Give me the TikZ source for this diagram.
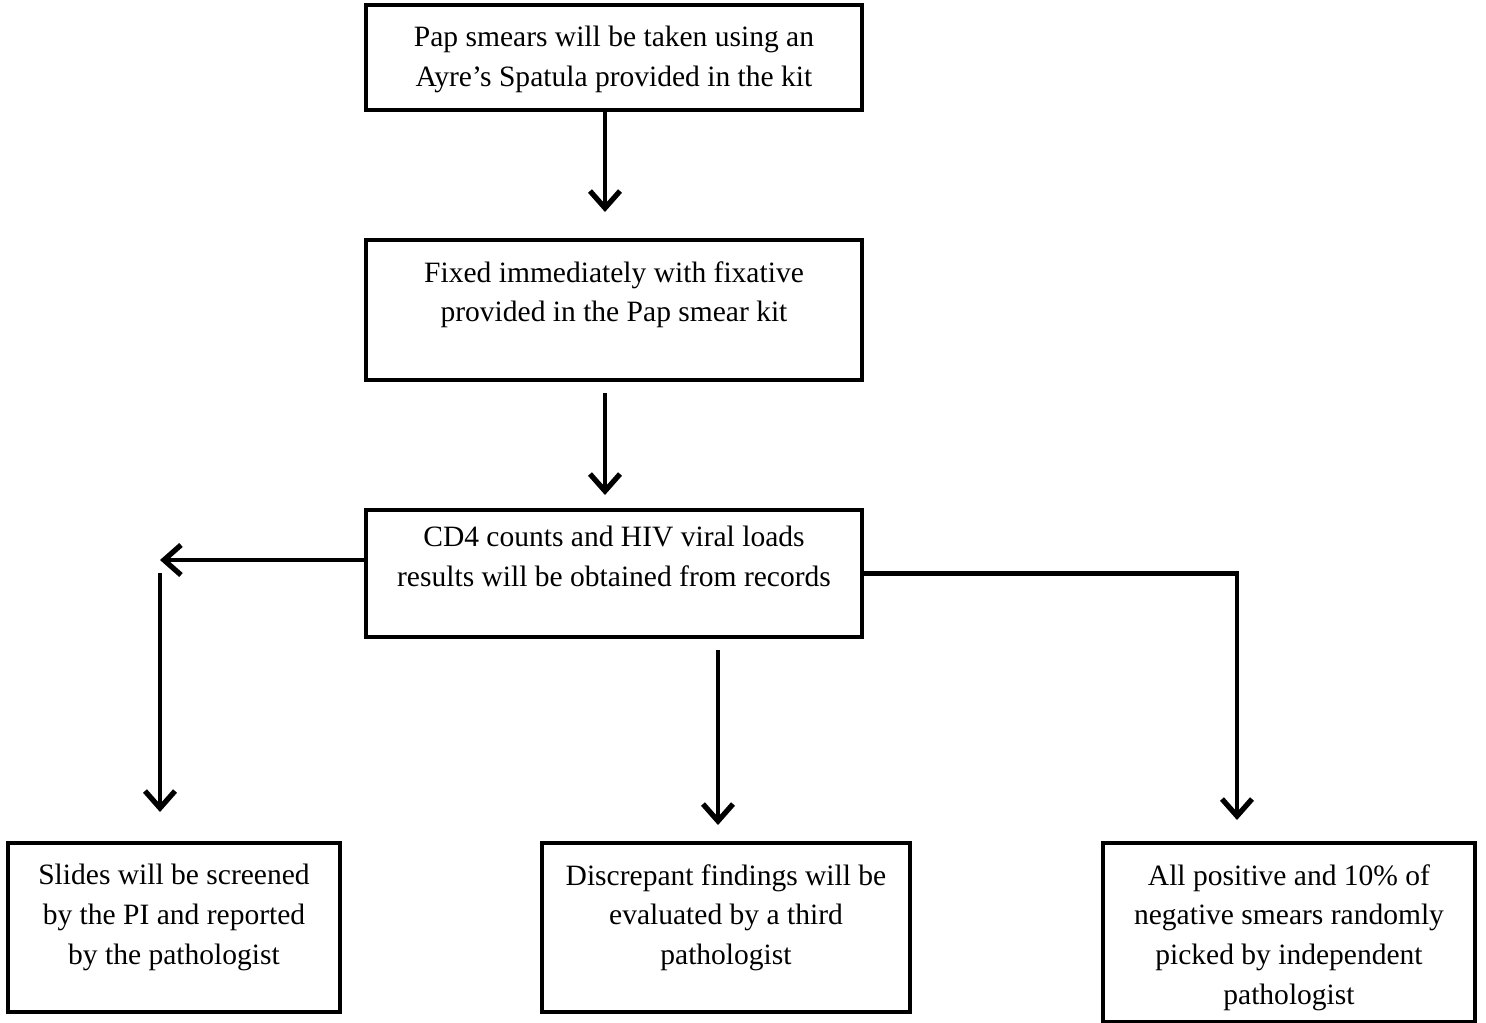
\documentclass[tikz,border=0pt]{standalone}
\usepackage{fontspec}
\setmainfont{Liberation Serif}
\usetikzlibrary{arrows.meta,positioning}

\tikzset{
    box/.style={draw, line width=2.3pt, inner sep=0pt},
    txt/.style={align=center, inner sep=0pt, font=\fontsize{16.8}{22.6}\selectfont},
    arr/.style={line width=2.6pt, -{Straight Barb[length=3.4mm, width=6mm, line width=3pt]}}
}

\begin{document}
\begin{tikzpicture}

    \useasboundingbox (0,0) rectangle (29.72,-20.46);

    % caixas
    \node[box, minimum width=9.92cm, minimum height=2.1cm ] (pap)   at (12.28, -1.15 ) {};
    \node[box, minimum width=9.92cm, minimum height=2.8cm ] (fix)   at (12.28, -6.2  ) {};
    \node[box, minimum width=9.92cm, minimum height=2.54cm] (cd)    at (12.28, -11.47) {};
    \node[box, minimum width=6.64cm, minimum height=3.38cm] (slide) at (3.48 , -18.55) {};
    \node[box, minimum width=7.36cm, minimum height=3.38cm] (disc)  at (14.52, -18.55) {};
    \node[box, minimum width=7.44cm, minimum height=3.58cm] (pos)   at (25.78, -18.65) {};

    % textos
    \node[txt, below=0.46cm of pap.north]   (paptext)   {Pap smears will be taken using an\\ Ayre’s Spatula provided in the kit};
    \node[txt, below=0.46cm of fix.north]   (fixtext)   {Fixed immediately with fixative\\ provided in the Pap smear kit};
    \node[txt, below=0.36cm of cd.north]    (cdtext)    {CD4 counts and HIV viral loads\\ results will be obtained from records};
    \node[txt, below=0.46cm of slide.north] (slidetext) {Slides will be screened\\ by the PI and reported\\ by the pathologist};
    \node[txt, below=0.46cm of disc.north]  (disctext)  {Discrepant findings will be\\ evaluated by a third\\ pathologist};
    \node[txt, below=0.46cm of pos.north]   (postext)   {All positive and 10\% of\\ negative smears randomly\\ picked by independent\\ pathologist};

    % pontas soltas das setas
    \coordinate (a1) at (12.1, -4.24);
    \coordinate (a2s) at (12.1, -7.86);
    \coordinate (a2) at (12.1, -9.9);
    \coordinate (l1) at (3.2, -11.2);
    \coordinate (l2s) at (3.2, -11.46);
    \coordinate (l2) at (3.2, -16.24);
    \coordinate (m1s) at (14.36, -13.0);
    \coordinate (m1) at (14.36, -16.5);
    \coordinate (r2) at (24.74, -16.4);

    \draw[arr] (pap.south -| a1) -- (a1);
    \draw[arr] (a2s) -- (a2);
    \draw[arr] (cd.west |- l1) -- (l1);
    \draw[arr] (l2s) -- (l2);
    \draw[arr] (m1s) -- (m1);
    \draw[arr] (cd.east) -- (cd.east -| r2) -- (r2);

\end{tikzpicture}
\end{document}
